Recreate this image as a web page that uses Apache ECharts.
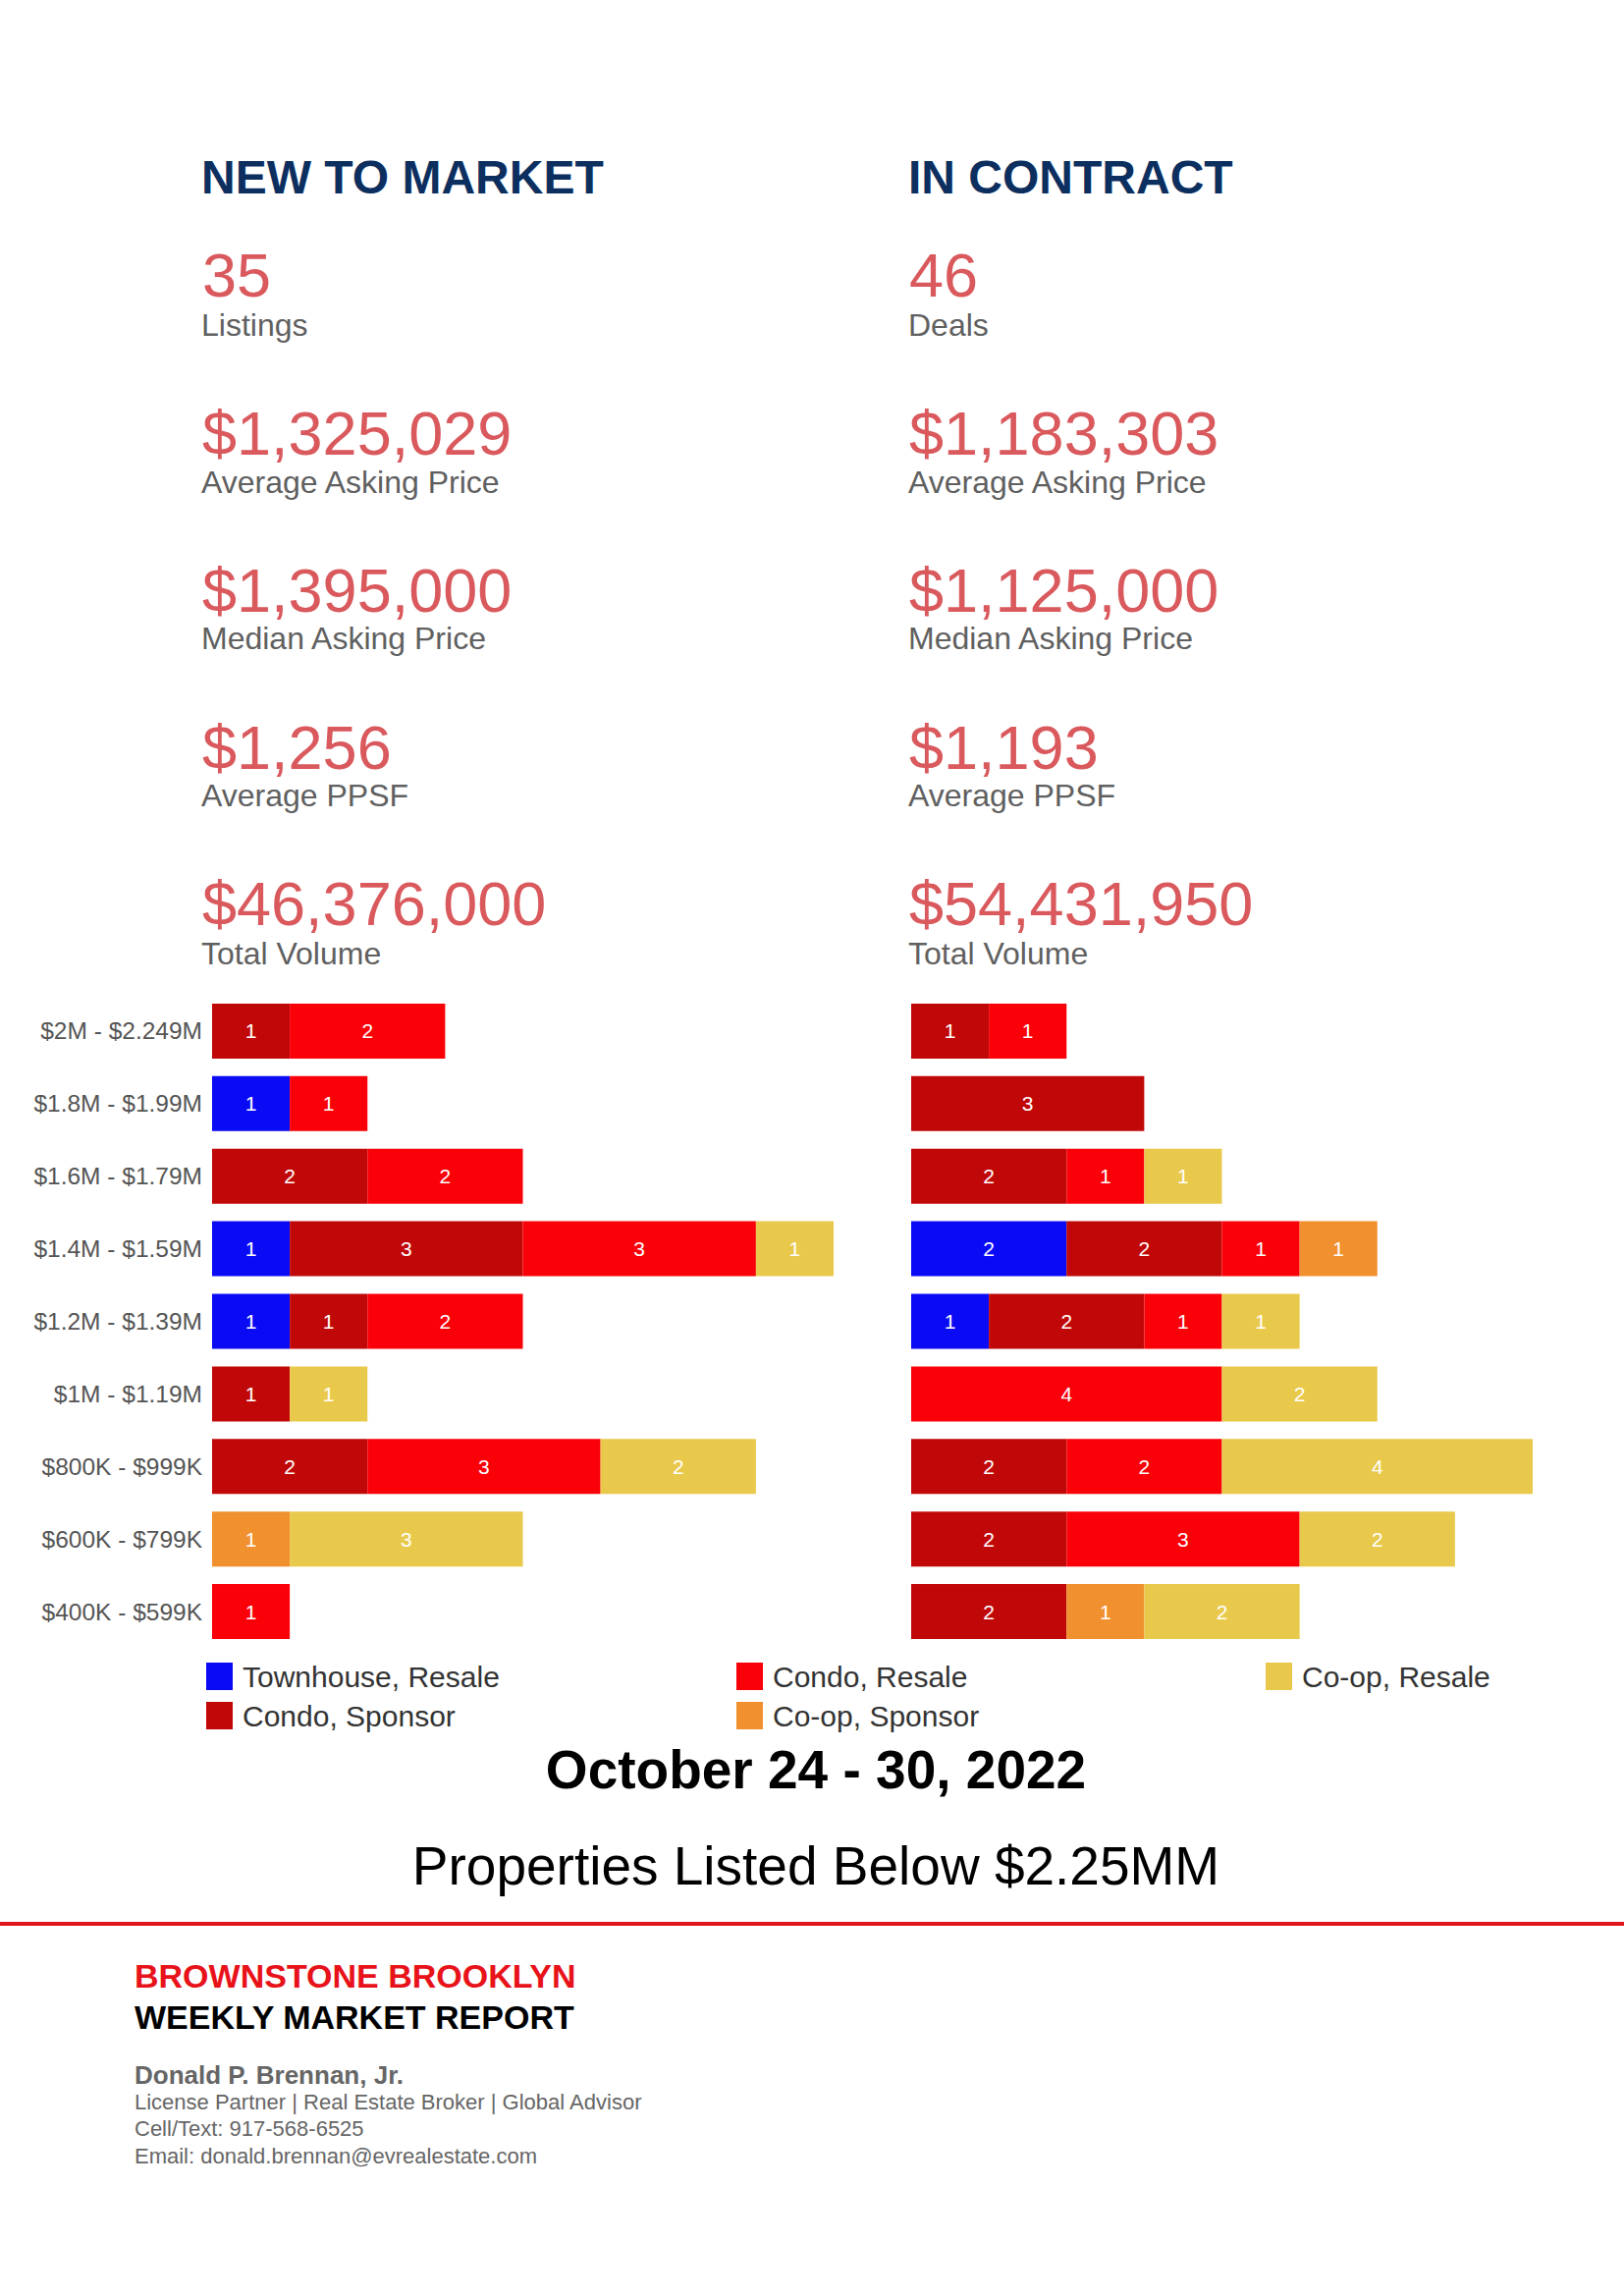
<!DOCTYPE html>
<html>
<head>
<meta charset="utf-8">
<script src="https://cdn.jsdelivr.net/npm/echarts@6/dist/echarts.min.js"></script>
<style>
html,body{margin:0;padding:0;background:#fff;}
#chart{width:1654px;height:2338px;}
</style>
</head>
<body>
<div id="chart"></div>
<script>
// ---------- DATA ----------
const categories = ['$2M - $2.249M','$1.8M - $1.99M','$1.6M - $1.79M','$1.4M - $1.59M','$1.2M - $1.39M','$1M - $1.19M','$800K - $999K','$600K - $799K','$400K - $599K'];
const seriesNames = ['Townhouse, Resale','Condo, Sponsor','Condo, Resale','Co-op, Sponsor','Co-op, Resale'];
const seriesColors = ['#0a0af5','#c10808','#fa0008','#f0902e','#e9c94b'];

// New to market (left)
const newTownhouseResale = [0,1,0,1,1,0,0,0,0];
const newCondoSponsor    = [1,0,2,3,1,1,2,0,0];
const newCondoResale     = [2,1,2,3,2,0,3,0,1];
const newCoopSponsor     = [0,0,0,0,0,0,0,1,0];
const newCoopResale      = [0,0,0,1,0,1,2,3,0];

// In contract (right)
const conTownhouseResale = [0,0,0,2,1,0,0,0,0];
const conCondoSponsor    = [1,3,2,2,2,0,2,2,2];
const conCondoResale     = [1,0,1,1,1,4,2,3,0];
const conCoopSponsor     = [0,0,0,1,0,0,0,0,1];
const conCoopResale      = [0,0,1,0,1,2,4,2,2];

const newHeading = 'NEW TO MARKET';
const newStatValues = ['35','$1,325,029','$1,395,000','$1,256','$46,376,000'];
const newStatLabels = ['Listings','Average Asking Price','Median Asking Price','Average PPSF','Total Volume'];
const conHeading = 'IN CONTRACT';
const conStatValues = ['46','$1,183,303','$1,125,000','$1,193','$54,431,950'];
const conStatLabels = ['Deals','Average Asking Price','Median Asking Price','Average PPSF','Total Volume'];

const dateText = 'October 24 - 30, 2022';
const subtitleText = 'Properties Listed Below $2.25MM';
const footerBrand = 'BROWNSTONE BROOKLYN';
const footerReport = 'WEEKLY MARKET REPORT';
const footerName = 'Donald P. Brennan, Jr.';
const footerLines = ['License Partner | Real Estate Broker | Global Advisor','Cell/Text: 917-568-6525','Email: donald.brennan@evrealestate.com'];

// ---------- BUILD ----------
const FONT = '"Liberation Sans", Arial, Helvetica, sans-serif';
const chart = echarts.init(document.getElementById('chart'), null, {renderer:'svg', width:1654, height:2338});

const newData = [newTownhouseResale,newCondoSponsor,newCondoResale,newCoopSponsor,newCoopResale];
const conData = [conTownhouseResale,conCondoSponsor,conCondoResale,conCoopSponsor,conCoopResale];

function makeSeries(dataSets, idx){
  return dataSets.map((d,i)=>({
    name: seriesNames[i],
    type:'bar',
    stack:'s'+idx,
    xAxisIndex: idx,
    yAxisIndex: idx,
    barWidth: 56,
    data: d,
    itemStyle:{color: seriesColors[i]},
    label:{show:true, position:'inside', color:'#fff', fontSize:21, fontFamily:FONT,
      formatter: p => p.value ? String(p.value) : ''},
    emphasis:{disabled:true},
    animation:false
  }));
}

const graphics = [];
function txt(x,y,text,font,fill,align){
  graphics.push({type:'text', x:x, y:y, silent:true,
    style:{text:text, font:font, fill:fill, align:align||'left', textAlign:align||'left', verticalAlign:'middle', textVerticalAlign:'middle'}});
}
// Headings & stats
const statValueY = [280,441,601,761,920];
const statLabelY = [331,491,650,810,971];
txt(205,180,newHeading,'bold 48px '+FONT,'#0c2f5f');
txt(925,180,conHeading,'bold 48px '+FONT,'#0c2f5f');
for(let i=0;i<5;i++){
  txt(206,statValueY[i],newStatValues[i],'63px '+FONT,'#d9595d');
  txt(205,statLabelY[i],newStatLabels[i],'32px '+FONT,'#606060');
  txt(926,statValueY[i],conStatValues[i],'63px '+FONT,'#d9595d');
  txt(925,statLabelY[i],conStatLabels[i],'32px '+FONT,'#606060');
}
txt(831,1802,dateText,'bold 55px '+FONT,'#000','center');
txt(831,1900,subtitleText,'55px '+FONT,'#000','center');
graphics.push({type:'rect', silent:true, shape:{x:0,y:1957,width:1654,height:4}, style:{fill:'#e0141a'}});
txt(137,2012,footerBrand,'bold 34px '+FONT,'#e8121a');
txt(137,2054,footerReport,'bold 34px '+FONT,'#000');
txt(137,2113,footerName,'bold 26px '+FONT,'#666');
txt(137,2140,footerLines[0],'22px '+FONT,'#666');
txt(137,2167,footerLines[1],'22px '+FONT,'#666');
txt(137,2195,footerLines[2],'22px '+FONT,'#666');

const legendCommon = {orient:'vertical', icon:'rect', itemWidth:27, itemHeight:28, itemGap:10, padding:0,
  selectedMode:false, textStyle:{fontSize:30, fontFamily:FONT, color:'#333', lineHeight:30, padding:[0,0,0,5]}};

const option = {
  animation:false,
  backgroundColor:'#fff',
  grid:[
    {left:216, top:1013, width:633, height:665},
    {left:928, top:1013, width:633, height:665}
  ],
  xAxis:[
    {type:'value', gridIndex:0, min:0, max:8, show:false},
    {type:'value', gridIndex:1, min:0, max:8, show:false}
  ],
  yAxis:[
    {type:'category', gridIndex:0, data:categories, inverse:true,
      axisLine:{show:false}, axisTick:{show:false}, splitLine:{show:false},
      axisLabel:{fontSize:24.5, fontFamily:FONT, color:'#555', margin:10}},
    {type:'category', gridIndex:1, data:categories, inverse:true,
      axisLine:{show:false}, axisTick:{show:false}, splitLine:{show:false},
      axisLabel:{show:false}}
  ],
  legend:[
    Object.assign({left:210, top:1692, data:[seriesNames[0],seriesNames[1]]}, legendCommon),
    Object.assign({left:750, top:1692, data:[seriesNames[2],seriesNames[3]]}, legendCommon),
    Object.assign({left:1289, top:1692, data:[seriesNames[4]]}, legendCommon)
  ],
  series: makeSeries(newData,0).concat(makeSeries(conData,1)),
  graphic: graphics
};
chart.setOption(option);
</script>
</body>
</html>
